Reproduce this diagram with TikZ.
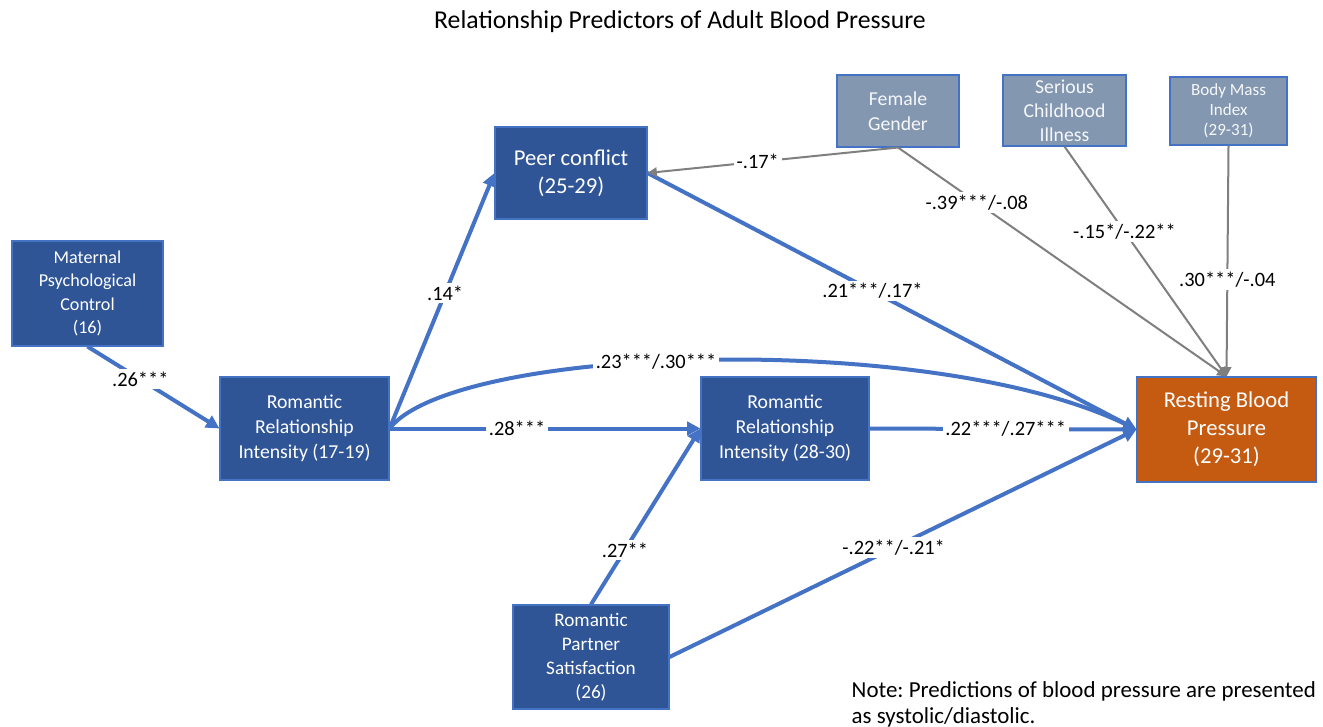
\documentclass[tikz,border=0pt]{standalone}
\usepackage{fontspec}
\setmainfont{Carlito}
\usetikzlibrary{arrows.meta}
\definecolor{boxblue}{HTML}{2F5597}
\definecolor{edgeblue}{HTML}{4472C4}
\definecolor{covgray}{HTML}{8497B0}
\definecolor{bporange}{HTML}{C55A11}
\definecolor{linegray}{HTML}{7F7F7F}
\newcommand{\fs}[2]{\fontsize{#1}{#2}\selectfont}
\frenchspacing
\begin{document}
\begin{tikzpicture}[
    x=0.75pt, y=-0.75pt,
    box/.style={rectangle, draw=edgeblue, line width=0.8pt, fill=boxblue, text=white, align=center, inner sep=0pt, font=\fs{14.8}{18.75}},
    covbox/.style={box, fill=covgray, text=white!92!covgray},
    outbox/.style={box, fill=bporange},
    arrow/.style={-{Triangle[length=10pt, width=10pt]}, line width=3pt, edgeblue},
    grayarrow/.style={-{Triangle[length=7pt, width=7pt]}, line width=1.5pt, linegray},
    lbl/.style={fill=white, inner sep=2pt, text=black, font=\fs{15.3}{17}}
]
\useasboundingbox (0,0) rectangle (1323,727);

\node[font=\fs{19.3}{22}] (title) at (680,22) {Relationship Predictors of Adult Blood Pressure};

\node[box, minimum width=113.25pt, minimum height=78.75pt, font=\fs{13.6}{17.6}] (mat) at (87.5,293.5) {Maternal\\Psychological\\Control\\(16)};
\node[box, minimum width=126.75pt, minimum height=77.25pt] (rri1) at (304.5,428.5) {Romantic\\Relationship\\Intensity (17-19)};
\node[box, minimum width=114pt, minimum height=69pt, font=\fs{17}{21}] (peer) at (571,173) {Peer conflict\\(25-29)};
\node[box, minimum width=126pt, minimum height=77.25pt] (rri2) at (785,428.5) {Romantic\\Relationship\\Intensity (28-30)};
\node[box, minimum width=117pt, minimum height=78pt, font=\fs{14.4}{18}] (rps) at (591,657) {Romantic\\Partner\\Satisfaction\\(26)};
\node[covbox, minimum width=91.5pt, minimum height=54pt] (fem) at (898,111) {Female\\Gender};
\node[covbox, minimum width=92.25pt, minimum height=53.25pt, font=\fs{14.8}{18}] (sci) at (1064.5,110.5) {Serious\\Childhood\\Illness};
\node[covbox, minimum width=87.75pt, minimum height=51pt, font=\fs{12.8}{15}] (bmi) at (1228.5,111) {Body Mass\\Index\\(29-31)};
\node[outbox, minimum width=134.25pt, minimum height=78.75pt, font=\fs{17}{21}] (rbp) at (1226.5,429.5) {Resting Blood\\Pressure\\(29-31)};

% paths between the relationship measures
\draw[arrow] (mat.south) -- node[lbl, pos=0.4] {.26***} (rri1.west);
\draw[arrow] (rri1.east) -- node[lbl, pos=0.53] {.14*} (peer.west);
\draw[arrow] (rri1.east) -- node[lbl, pos=0.41] {.28***} (rri2.west);
\draw[arrow] (rri1.east) .. controls (455,345) and (930,330) .. node[lbl, pos=0.44] {.23***/.30***} (rbp.west);
\draw[arrow] (peer.east) -- node[lbl, pos=0.46] {.21***/.17*} (rbp.west);
\draw[arrow] (rps.north) -- node[lbl, pos=0.31] {.27**} (rri2.west);
\draw[arrow] (rps.east) -- node[lbl, pos=0.48] {-.22**/-.21*} (rbp.west);
\draw[arrow] (rri2.east) -- node[lbl, pos=0.51] {.22***/.27***} (rbp.west);

% covariates
\draw[grayarrow] (fem.south) -- node[lbl, pos=0.56] {-.17*} (peer.east);
\draw[grayarrow] (fem.south) -- node[lbl, pos=0.24] {-.39***/-.08} (rbp.north);
\draw[grayarrow] (sci.south) -- node[lbl, pos=0.37] {-.15*/-.22**} (rbp.north);
\draw[grayarrow] (bmi.south) -- node[lbl, pos=0.58] {.30***/-.04} (rbp.north);

\node[anchor=north west, align=left, font=\fs{17.2}{19.5}] (note) at (847,677) {Note: Predictions of blood pressure are presented\\as systolic/diastolic.};
\end{tikzpicture}
\end{document}
